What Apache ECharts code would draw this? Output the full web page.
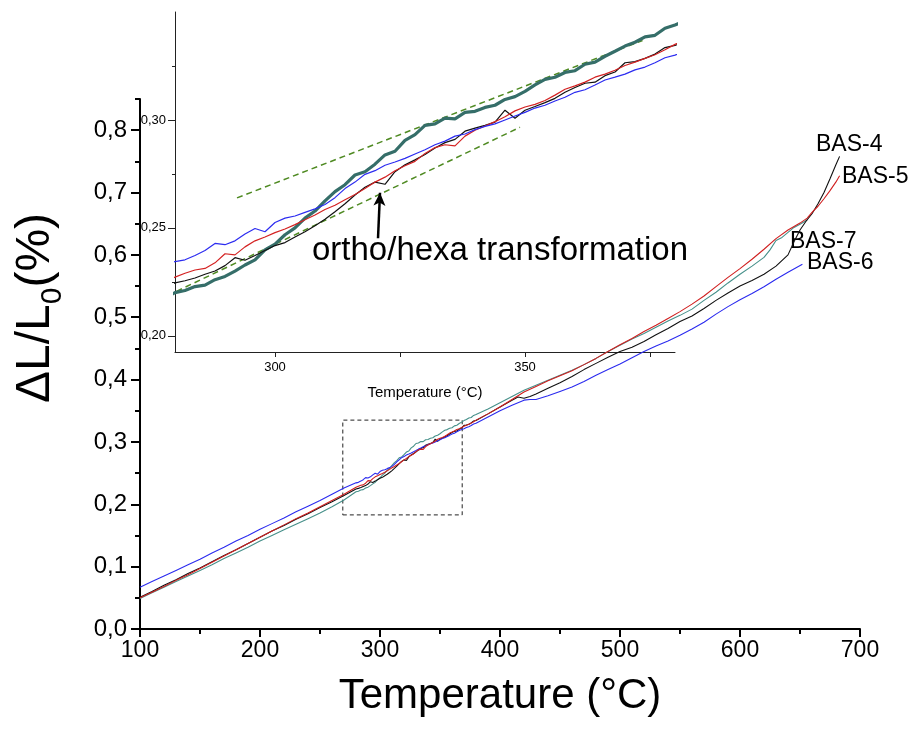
<!DOCTYPE html>
<html>
<head>
<meta charset="utf-8">
<title>BAS dilatometry</title>
<script src="https://cdn.jsdelivr.net/npm/echarts@6/dist/echarts.min.js"></script>
<style>
html,body{margin:0;padding:0;background:#fff}
#chart{width:912px;height:731px}
</style>
</head>
<body>
<div id="chart"></div>
<script>
// temperatures (°C)
var tempLow=[100,110,120,130,140,150,160,170,180,190,200,210,220,230,240,250,260,270];
var tempInset=[280,282,284,286,288,290,292,294,296,298,300,302,304,306,308,310,312,314,316,318,320,
    322,324,326,328,330,332,334,336,338,340,342,344,346,348,350,352,354,356,358,360,
    362,364,366,368,370,372,374,376,378,380];

// BAS-4 (black)
var bas4Low=[.051,.060,.070,.079,.089,.098,.108,.118,.127,.137,.147,.157,.166,.176,.185,.195,.204,.214];
var bas4Inset=[.2245,.2255,.2268,.2285,.2300,.2325,.2362,.2350,.2372,.2395,.2418,.2432,.2458,.2482,.2510,.2540,
    .2575,.2612,.2652,.2688,.2712,.2702,.2760,.2792,.2815,.2840,.2870,.2895,.2910,.2948,.2962,.2975,.2990,
    .3045,.3008,.3045,.3062,.3080,.3100,.3128,.3150,.3170,.3175,.3205,.3222,.3265,.3270,.3285,.3305,.3335,.3345];
var bas4HighT=[390,400,410,415,420,425,430,440,450,460,470,480,490,500,510,520,530,540,550,560,570,580,590,600,
    610,620,630,640,645,650,655,660,665,670,675,680,683];
var bas4High=[.345,.356,.367,.372,.370,.373,.377,.386,.395,.405,.416,.426,.436,.445,.452,.461,.472,.482,.493,.502,
    .514,.527,.539,.550,.559,.569,.582,.600,.621,.640,.654,.666,.682,.700,.722,.745,.758];

// BAS-5 (red)
var bas5Low=[.050,.059,.068,.078,.087,.097,.107,.117,.127,.137,.147,.157,.167,.177,.186,.196,.206,.216];
var bas5Inset=[.2272,.2290,.2305,.2312,.2338,.2380,.2375,.2412,.2440,.2458,.2478,.2495,.2515,.2538,.2560,.2585,
    .2605,.2630,.2655,.2682,.2712,.2735,.2765,.2788,.2808,.2845,.2872,.2885,.2880,.2925,.2952,.2972,.2992,
    .3015,.3042,.3060,.3072,.3090,.3115,.3142,.3158,.3175,.3198,.3212,.3230,.3252,.3268,.3285,.3302,.3325,.3350];
var bas5HighT=[390,400,410,420,430,440,450,460,470,480,490,500,510,520,530,540,550,560,570,580,590,600,
    610,620,630,640,650,656,660,665,670,675,680,683];
var bas5High=[.345,.356,.368,.380,.389,.398,.406,.414,.424,.434,.445,.456,.466,.477,.487,.498,.509,.521,.534,.549,
    .564,.578,.593,.609,.626,.640,.651,.659,.668,.678,.690,.703,.717,.727];

// BAS-6 (blue)
var bas6Low=[.067,.076,.085,.094,.103,.112,.122,.131,.141,.150,.160,.169,.178,.188,.197,.206,.216,.226];
var bas6Inset=[.2344,.2352,.2372,.2395,.2428,.2422,.2440,.2472,.2497,.2482,.2525,.2545,.2555,.2572,.2588,.2608,
    .2640,.2682,.2712,.2748,.2765,.2790,.2805,.2822,.2842,.2862,.2885,.2902,.2925,.2935,.2955,.2970,.2982,
    .3000,.3018,.3035,.3055,.3068,.3088,.3105,.3128,.3140,.3162,.3185,.3198,.3212,.3232,.3245,.3265,.3288,.3300];
var bas6HighT=[390,400,410,420,425,430,440,450,460,470,480,490,500,510,520,530,540,550,560,570,580,590,600,
    610,620,630,640,652];
var bas6High=[.340,.350,.359,.367,.368,.368,.374,.381,.388,.397,.407,.416,.425,.435,.445,.454,.462,.471,.481,
    .492,.505,.517,.528,.538,.549,.561,.572,.585];

// BAS-7 (teal)
var bas7Low=[.049,.058,.067,.076,.085,.094,.103,.113,.122,.131,.141,.150,.159,.168,.177,.186,.196,.207];
var bas7Inset=[.2200,.2210,.2228,.2235,.2260,.2275,.2300,.2328,.2352,.2398,.2425,.2468,.2500,.2545,.2578,.2625,
    .2668,.2700,.2745,.2760,.2795,.2838,.2855,.2905,.2932,.2975,.2982,.3008,.3005,.3035,.3040,.3058,.3068,
    .3095,.3108,.3132,.3162,.3188,.3198,.3220,.3228,.3258,.3268,.3295,.3318,.3342,.3360,.3385,.3392,.3425,.3440];
var bas7HighT=[390,400,410,420,430,440,450,460,470,480,490,500,510,520,530,540,550,560,570,580,590,600,
    610,620,625,630,635,640,645,650,656];
var bas7High=[.353,.363,.373,.383,.391,.399,.407,.415,.424,.434,.445,.455,.465,.474,.484,.494,.503,.513,.527,
    .540,.555,.569,.582,.596,.608,.623,.628,.636,.644,.649,.656];

// annotations in inset / main coordinates
var tangentUpperT=[292.4,373.5], tangentUpperV=[0.2639,0.3368];
var tangentLowerT=[280.3,349], tangentLowerV=[0.2206,0.2966];
var arrowT=[320.6,321], arrowV=[0.2452,0.2663];
var zoomBoxT=[269,368.5], zoomBoxV=[0.183,0.335];

// tick labels
var mainYTicks=[0,0.1,0.2,0.3,0.4,0.5,0.6,0.7,0.8];
var mainYMinor=[0.05,0.15,0.25,0.35,0.45,0.55,0.65,0.75,0.85];
var insetXTicks=[300,325,350,375], insetXLabels=[300,350];
var insetYTicks=[0.20,0.25,0.30], insetYMinor=[0.225,0.275,0.325];

function pts(t,v){
    var out=[];
    for(var i=0;i<t.length;i++){out.push([t[i],v[i]]);}
    return out;
}
function full(low,inset,highT,high){
    return pts(tempLow,low).concat(pts(tempInset,inset),pts(highT,high));
}
var black=full(bas4Low,bas4Inset,bas4HighT,bas4High),
    red=full(bas5Low,bas5Inset,bas5HighT,bas5High),
    blue=full(bas6Low,bas6Inset,bas6HighT,bas6High),
    teal=full(bas7Low,bas7Inset,bas7HighT,bas7High);

var FONT='"Liberation Sans", Arial, sans-serif';

function line(name,data,color,width,xi,yi,z){
    return {
        name:name,type:'line',data:data,xAxisIndex:xi,yAxisIndex:yi,
        symbol:'none',showSymbol:false,silent:true,z:z,
        lineStyle:{color:color,width:width},itemStyle:{color:color}
    };
}

var mainTeal=line('BAS-7',teal,'#46908a',1.1,0,0,2);
mainTeal.markArea={
    silent:true,
    itemStyle:{color:'rgba(0,0,0,0)',borderColor:'#222',borderWidth:1,borderType:[4,3]},
    data:[[{coord:[zoomBoxT[0],zoomBoxV[0]]},{coord:[zoomBoxT[1],zoomBoxV[1]]}]]
};

var insetBlack=line('BAS-4 inset',black,'#111',1.2,1,2,6);
insetBlack.markLine={
    silent:true,symbol:['none','arrow'],symbolSize:[9,13],
    label:{show:false},
    lineStyle:{color:'#000',width:2.5,type:'solid'},
    data:[[{coord:[arrowT[0],arrowV[0]]},{coord:[arrowT[1],arrowV[1]]}]]
};

function tangent(t,v){
    var s=line('tangent',pts(t,v),'#4f8a22',1.5,1,2,3);
    s.lineStyle.type=[6,4];
    return s;
}

var chart=echarts.init(document.getElementById('chart'));
chart.setOption({
    animation:false,
    backgroundColor:'#fff',
    grid:[
        {left:140,right:52,top:99,bottom:102},
        {left:175,right:237,top:12,bottom:379}
    ],
    xAxis:[
        {
            type:'value',gridIndex:0,min:100,max:700,interval:100,
            axisLine:{lineStyle:{color:'#000',width:2}},
            axisTick:{length:8,lineStyle:{width:2}},
            minorTick:{show:true,splitNumber:2,length:5,lineStyle:{color:'#000',width:2}},
            splitLine:{show:false},
            axisLabel:{color:'#000',fontSize:23,fontFamily:'"Liberation Sans Narrow", "Liberation Sans", Arial',margin:10},
            name:'Temperature (°C)',nameLocation:'middle',nameGap:46,
            nameTextStyle:{color:'#000',fontSize:42,fontFamily:FONT}
        },
        {
            type:'value',gridIndex:1,min:280,max:380,
            axisLine:{lineStyle:{color:'#222',width:1}},
            axisTick:{length:5,customValues:insetXTicks,lineStyle:{color:'#222'}},
            splitLine:{show:false},
            axisLabel:{color:'#000',fontSize:13,fontFamily:FONT,margin:9,customValues:insetXLabels},
            name:'Temperature (°C)',nameLocation:'middle',nameGap:33,
            nameTextStyle:{color:'#000',fontSize:15,fontFamily:FONT}
        }
    ],
    yAxis:[
        {
            type:'value',gridIndex:0,position:'left',min:0,max:0.85,
            axisLine:{show:true,lineStyle:{color:'#000',width:2}},
            axisTick:{show:true,length:9,customValues:mainYTicks,lineStyle:{width:2}},
            splitLine:{show:false},
            axisLabel:{color:'#000',fontSize:24,fontFamily:FONT,margin:13,customValues:mainYTicks,
                formatter:function(v){return v.toFixed(1).replace('.',',');}}
        },
        {
            type:'value',gridIndex:0,position:'left',min:0,max:0.85,
            axisLine:{show:false},
            axisTick:{show:true,length:5,customValues:mainYMinor,lineStyle:{color:'#000',width:2}},
            axisLabel:{show:false},splitLine:{show:false}
        },
        {
            type:'value',gridIndex:1,position:'left',min:0.1925,max:0.35,
            axisLine:{show:true,lineStyle:{color:'#222',width:1}},
            axisTick:{show:true,length:7,customValues:insetYTicks,lineStyle:{color:'#222'}},
            splitLine:{show:false},
            axisLabel:{color:'#000',fontSize:13,fontFamily:FONT,margin:9,customValues:insetYTicks,
                formatter:function(v){return v.toFixed(2).replace('.',',');}}
        },
        {
            type:'value',gridIndex:1,position:'left',min:0.1925,max:0.35,
            axisLine:{show:false},
            axisTick:{show:true,length:3,customValues:insetYMinor,lineStyle:{color:'#222'}},
            axisLabel:{show:false},splitLine:{show:false}
        }
    ],
    series:[
        mainTeal,
        line('BAS-4',black,'#111',1.1,0,0,3),
        line('BAS-6',blue,'#2b2bef',1.1,0,0,3),
        line('BAS-5',red,'#d02020',1.1,0,0,4),
        tangent(tangentUpperT,tangentUpperV),
        tangent(tangentLowerT,tangentLowerV),
        line('BAS-7 inset',teal,'#356e69',3.2,1,2,5),
        insetBlack,
        line('BAS-5 inset',red,'#d42222',1.2,1,2,7),
        line('BAS-6 inset',blue,'#2c2cf0',1.2,1,2,8)
    ],
    graphic:[
        {type:'text',x:36,y:308,rotation:Math.PI/2,silent:true,
            style:{text:'{a|ΔL/L}{s|0}{a|(%)}',align:'center',verticalAlign:'middle',fill:'#000',
                rich:{
                    a:{fontSize:48,lineHeight:64,fontFamily:FONT,fill:'#000'},
                    s:{fontSize:30,lineHeight:30,verticalAlign:'bottom',fontFamily:FONT,fill:'#000'}
                }}},
        {type:'text',x:312,y:251,silent:true,style:{text:'ortho/hexa transformation',fontSize:33,fontFamily:FONT,fill:'#000',verticalAlign:'middle'}},
        {type:'text',x:816,y:145,silent:true,style:{text:'BAS-4',fontSize:23,fontFamily:FONT,fill:'#000',verticalAlign:'middle'}},
        {type:'text',x:842,y:177,silent:true,style:{text:'BAS-5',fontSize:23,fontFamily:FONT,fill:'#000',verticalAlign:'middle'}},
        {type:'text',x:790,y:242,silent:true,style:{text:'BAS-7',fontSize:23,fontFamily:FONT,fill:'#000',verticalAlign:'middle'}},
        {type:'text',x:807,y:263,silent:true,style:{text:'BAS-6',fontSize:23,fontFamily:FONT,fill:'#000',verticalAlign:'middle'}}
    ]
});
</script>
</body>
</html>
